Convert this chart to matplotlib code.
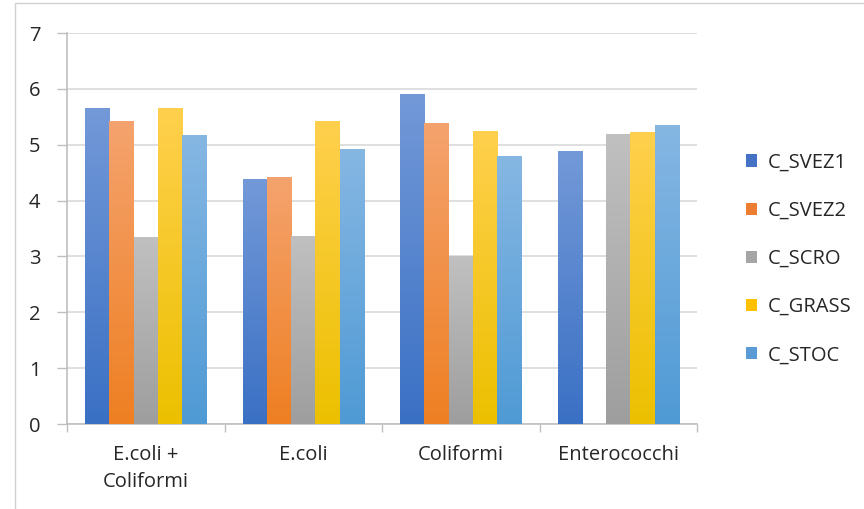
import numpy as np
import matplotlib.pyplot as plt
from matplotlib.patches import Patch, Rectangle
from matplotlib.colors import LinearSegmentedColormap

categories = ['E.coli +\nColiformi', 'E.coli', 'Coliformi', 'Enterococchi']
series = ['C_SVEZ1', 'C_SVEZ2', 'C_SCRO', 'C_GRASS', 'C_STOC']
c_svez1 = [5.64, 4.37, 5.90, 4.88]
c_svez2 = [5.41, 4.41, 5.38, 0.0]
c_scro = [3.33, 3.36, 3.00, 5.18]
c_grass = [5.64, 5.42, 5.24, 5.21]
c_stoc = [5.16, 4.92, 4.79, 5.35]
values = [c_svez1, c_svez2, c_scro, c_grass, c_stoc]

# (top colour, bottom colour, legend colour)
colors = [('#7399d8', '#3a70c4', '#4472c4'),
          ('#f5a36e', '#ee7f22', '#ed7d31'),
          ('#c0c0c0', '#9e9e9e', '#a5a5a5'),
          ('#ffd04d', '#ecc000', '#ffc000'),
          ('#86b7e3', '#4f9ad5', '#5b9bd5')]

plt.rcParams['font.family'] = ['Open Sans', 'DejaVu Sans']

fig = plt.figure(figsize=(8.64, 5.09), dpi=100)
ax = fig.add_axes([67/864, 1-424/509, 630/864, 391/509])

# light frame round the chart area
fig.patches.append(Rectangle((15/864, -0.01), 1.0, 1 - 3/509 + 0.01, transform=fig.transFigure,
                             fill=False, edgecolor='#d0d0d0', lw=1.0))

x = np.arange(len(categories))
w = 0.154
for i, vals in enumerate(values):
    top, bot, _ = colors[i]
    cmap = LinearSegmentedColormap.from_list('g%d' % i, [bot, top])
    bars = ax.bar(x + (i - 2) * w, vals, width=w, color='none', edgecolor='none',
                  linewidth=0, zorder=3)
    # fill each bar with a vertical gradient
    for b in bars:
        h = b.get_height()
        if h <= 0:
            continue
        x0 = b.get_x()
        grad = np.linspace(0, 1, 256).reshape(-1, 1)
        ax.imshow(grad, extent=(x0, x0 + w, 0, h), origin='lower', aspect='auto',
                  cmap=cmap, vmin=0, vmax=1, interpolation='bilinear', zorder=3)

ax.set_xlim(-0.5, 3.5)
ax.set_ylim(0, 7)
ax.set_yticks(range(8))
ax.set_xticks(x)
ax.set_xticklabels(categories, linespacing=1.45)
ax.set_xticks(np.arange(-0.5, 4, 1), minor=True)
ax.tick_params(axis='x', which='major', length=0, pad=15, labelsize=14.5, colors='#262626')
ax.tick_params(axis='x', which='minor', length=6, color='#bfbfbf', width=1)
ax.tick_params(axis='y', length=7, width=1, pad=12, labelsize=14.5, colors='#262626')
ax.tick_params(axis='y', color='#bfbfbf')
ax.grid(axis='y', color='#d9d9d9', lw=1.2, zorder=0)
for s in ['top', 'right']:
    ax.spines[s].set_visible(False)
for s in ['left', 'bottom']:
    ax.spines[s].set_color('#bfbfbf')
    ax.spines[s].set_linewidth(1.2)

handles = [Patch(facecolor=c[2], edgecolor='none') for c in colors]
fig.legend(handles, series, loc='center left', bbox_to_anchor=(728/864, 1-259/509),
           frameon=False, fontsize=14.5, handlelength=0.55, handleheight=0.55,
           handletextpad=0.5, labelspacing=1.4, labelcolor='#262626')

fig.savefig('out.png', dpi=100)
